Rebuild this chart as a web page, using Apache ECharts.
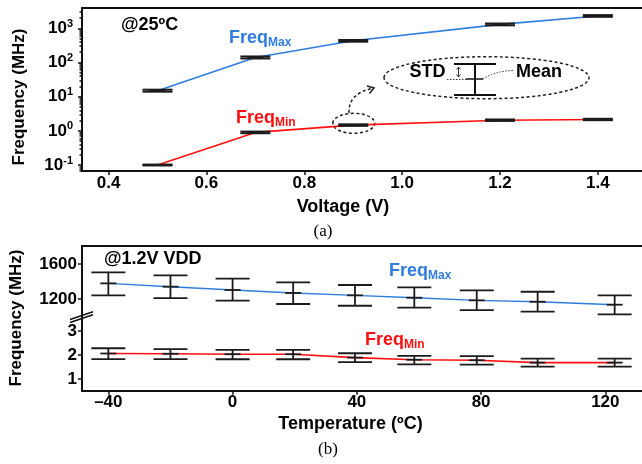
<!DOCTYPE html>
<html>
<head>
<meta charset="utf-8">
<script src="https://cdn.jsdelivr.net/npm/echarts@6/dist/echarts.min.js"></script>
<style>
html,body{margin:0;padding:0;background:#fff;}
#c{width:642px;height:464px;}
</style>
</head>
<body>
<div id="c"></div>
<script>
// ---------- data (a): frequency vs voltage @25C ----------
const voltage   = [0.5, 0.7, 0.9, 1.2, 1.4];
const fmaxMeanA = [15, 140, 430, 1300, 2300];
const fmaxLowA  = [14, 131, 405, 1220, 2170];
const fmaxHighA = [16, 150, 455, 1380, 2430];
const fminMeanA = [0.1, 0.9, 1.47, 2.05, 2.15];
const fminLowA  = [0.097, 0.85, 1.40, 1.95, 2.05];
const fminHighA = [0.103, 0.95, 1.55, 2.15, 2.25];
const voltTicks = [0.4, 0.6, 0.8, 1.0, 1.2, 1.4];
const logTicks  = [0.1, 1, 10, 100, 1000];
const logMinor  = [0.07,0.08,0.09,0.2,0.3,0.4,0.5,0.6,0.7,0.8,0.9,2,3,4,5,6,7,8,9,20,30,40,50,60,70,80,90,200,300,400,500,600,700,800,900,2000,3000];

// ---------- data (b): frequency vs temperature @1.2V ----------
const tempC     = [-40, -20, 0, 19.5, 39.4, 58.5, 78.6, 98.2, 123];
const fmaxMeanB = [1379, 1341, 1303, 1269, 1242, 1215, 1185, 1169, 1135];
const fmaxLowB  = [1242, 1211, 1181, 1143, 1123, 1101, 1074, 1055, 1025];
const fmaxHighB = [1505, 1471, 1432, 1390, 1360, 1334, 1299, 1283, 1242];
const fminMeanB = [2.06, 2.05, 2.03, 2.03, 1.89, 1.80, 1.78, 1.68, 1.68];
const fminLowB  = [1.83, 1.83, 1.82, 1.82, 1.70, 1.61, 1.60, 1.51, 1.51];
const fminHighB = [2.28, 2.24, 2.21, 2.21, 2.07, 1.96, 1.95, 1.85, 1.85];
const tempTicks = [-40, 0, 40, 80, 120];
const hiTicks   = [1200, 1600];
const loTicks   = [1, 2, 3];

const FONT = '"Liberation Sans Narrow", "Liberation Sans", Arial, sans-serif';
const BLUE = '#2f7de0';
const RED  = '#ff1010';
const AX = '#111';

const chart = echarts.init(document.getElementById('c'), null, {renderer: 'canvas'});

function errRender(capHalf, meanHalf, lw) {
  return function (params, api) {
    const x = api.value(0), lo = api.value(1), hi = api.value(2), m = api.value(3);
    const pLo = api.coord([x, lo]), pHi = api.coord([x, hi]), pM = api.coord([x, m]);
    const style = {stroke: '#1b1b1b', lineWidth: lw, fill: null};
    return {type: 'group', children: [
      {type: 'line', shape: {x1: pLo[0], y1: pLo[1], x2: pHi[0], y2: pHi[1]}, style: style},
      {type: 'line', shape: {x1: pLo[0] - capHalf, y1: pLo[1], x2: pLo[0] + capHalf, y2: pLo[1]}, style: style},
      {type: 'line', shape: {x1: pHi[0] - capHalf, y1: pHi[1], x2: pHi[0] + capHalf, y2: pHi[1]}, style: style},
      {type: 'line', shape: {x1: pM[0] - meanHalf, y1: pM[1], x2: pM[0] + meanHalf, y2: pM[1]}, style: style}
    ]};
  };
}
function errData(xs, lo, hi, m) { return xs.map((x, i) => [x, lo[i], hi[i], m[i]]); }
function lineData(xs, m) { return xs.map((x, i) => [x, m[i]]); }

const lbl = {fontFamily: FONT, fontWeight: 'bold', fontSize: 17, color: '#000'};
const axLine = {onZero: false, lineStyle: {color: AX, width: 2}};
const tick = (vals, len) => ({customValues: vals, length: len, inside: false, lineStyle: {color: AX, width: 1.5}});
const noTick = {show: false};
const noLbl = {show: false};
const noSplit = {show: false};
const plain = v => String(v);

const XA_MIN = 0.3457, XA_MAX = 1.4902;
const XB_MIN = -48.48, XB_MAX = 131.8;

const option = {
  backgroundColor: '#fff',
  animation: false,
  grid: [
    {left: 82, top: 8, width: 568, height: 163},
    {left: 82, top: 246, width: 568, height: 72},
    {left: 82, top: 318, width: 568, height: 72.7}
  ],
  xAxis: [
    {gridIndex: 0, type: 'value', min: XA_MIN, max: XA_MAX, position: 'bottom',
     axisLine: axLine, axisTick: tick(voltTicks, 4), splitLine: noSplit,
     axisLabel: Object.assign({customValues: voltTicks, margin: 4, formatter: v => v.toFixed(1)}, lbl),
     name: 'Voltage (V)', nameLocation: 'middle', nameGap: 27,
     nameTextStyle: {fontFamily: FONT, fontWeight: 'bold', fontSize: 18, color: '#000', padding: [0, 38, 0, 0]}},
    {gridIndex: 0, type: 'value', min: XA_MIN, max: XA_MAX, position: 'top',
     axisLine: axLine, axisTick: noTick, axisLabel: noLbl, splitLine: noSplit},
    {gridIndex: 1, type: 'value', min: XB_MIN, max: XB_MAX, position: 'top',
     axisLine: axLine, axisTick: noTick, axisLabel: noLbl, splitLine: noSplit},
    {gridIndex: 2, type: 'value', min: XB_MIN, max: XB_MAX, position: 'bottom',
     axisLine: axLine, axisTick: tick(tempTicks, 4), splitLine: noSplit,
     axisLabel: Object.assign({customValues: tempTicks, margin: 3, formatter: v => (v < 0 ? '\u2013' + Math.abs(v) : String(v))}, lbl),
     name: 'Temperature (\u00baC)', nameLocation: 'middle', nameGap: 24,
     nameTextStyle: {fontFamily: FONT, fontWeight: 'bold', fontSize: 18, color: '#000', padding: [0, 23, 0, 0]}}
  ],
  yAxis: [
    {gridIndex: 0, type: 'log', logBase: 10, min: 0.0668, max: 3926, position: 'left',
     axisLine: axLine, axisTick: tick(logTicks, 4), splitLine: noSplit, minorTick: {show: false},
     axisLabel: {customValues: logTicks, margin: 9,
       formatter: v => '{b|10}{s|' + Math.round(Math.log10(v)) + '}',
       rich: {b: {fontFamily: FONT, fontWeight: 'bold', fontSize: 17, color: '#000', lineHeight: 20},
              s: {fontFamily: FONT, fontWeight: 'bold', fontSize: 11, color: '#000', lineHeight: 12, verticalAlign: 'top'}}}},
    {gridIndex: 0, type: 'log', logBase: 10, min: 0.0668, max: 3926, position: 'left',
     axisLine: {show: false, onZero: false}, axisTick: tick(logMinor, 2.5), axisLabel: noLbl, splitLine: noSplit},
    {gridIndex: 1, type: 'value', min: 983, max: 1806, position: 'left',
     axisLine: axLine, axisTick: tick(hiTicks, 4), splitLine: noSplit,
     axisLabel: Object.assign({customValues: hiTicks, margin: 5, formatter: plain}, lbl)},
    {gridIndex: 2, type: 'value', min: 0.51, max: 3.54, position: 'left',
     axisLine: axLine, axisTick: tick(loTicks, 4), splitLine: noSplit,
     axisLabel: Object.assign({customValues: loTicks, margin: 5, formatter: plain}, lbl)}
  ],
  series: [
    {type: 'line', xAxisIndex: 0, yAxisIndex: 0, data: lineData(voltage, fmaxMeanA), showSymbol: false, symbol: 'none',
     lineStyle: {color: BLUE, width: 1.6}, z: 2},
    {type: 'line', xAxisIndex: 0, yAxisIndex: 0, data: lineData(voltage, fminMeanA), showSymbol: false, symbol: 'none',
     lineStyle: {color: RED, width: 1.6}, z: 2},
    {type: 'custom', xAxisIndex: 0, yAxisIndex: 0, data: errData(voltage, fmaxLowA, fmaxHighA, fmaxMeanA),
     renderItem: errRender(15, 8, 2), z: 3},
    {type: 'custom', xAxisIndex: 0, yAxisIndex: 0, data: errData(voltage, fminLowA, fminHighA, fminMeanA),
     renderItem: errRender(15, 8, 2), z: 3},

    {type: 'line', xAxisIndex: 2, yAxisIndex: 2, data: lineData(tempC, fmaxMeanB), showSymbol: false, symbol: 'none',
     lineStyle: {color: BLUE, width: 1.4}, z: 2},
    {type: 'custom', xAxisIndex: 2, yAxisIndex: 2, data: errData(tempC, fmaxLowB, fmaxHighB, fmaxMeanB),
     renderItem: errRender(17, 8, 1.8), z: 3},
    {type: 'line', xAxisIndex: 3, yAxisIndex: 3, data: lineData(tempC, fminMeanB), showSymbol: false, symbol: 'none',
     lineStyle: {color: RED, width: 1.6}, z: 2},
    {type: 'custom', xAxisIndex: 3, yAxisIndex: 3, data: errData(tempC, fminLowB, fminHighB, fminMeanB),
     renderItem: errRender(17, 8, 1.8), z: 3}
  ],
  graphic: [
    // y-axis titles
    {type: 'text', x: 19, y: 97, rotation: Math.PI / 2,
     style: {text: 'Frequency (MHz)', fontFamily: FONT, fontWeight: 'bold', fontSize: 17, fill: '#000', align: 'center', verticalAlign: 'middle'}},
    {type: 'text', x: 16, y: 318, rotation: Math.PI / 2,
     style: {text: 'Frequency (MHz)', fontFamily: FONT, fontWeight: 'bold', fontSize: 17, fill: '#000', align: 'center', verticalAlign: 'middle'}},
    // captions
    {type: 'text', x: 323, y: 232, style: {text: '(a)', fontFamily: '"Liberation Serif", "Times New Roman", serif', fontSize: 17, fill: '#000', align: 'center', verticalAlign: 'middle'}},
    {type: 'text', x: 328, y: 450, style: {text: '(b)', fontFamily: '"Liberation Serif", "Times New Roman", serif', fontSize: 17, fill: '#000', align: 'center', verticalAlign: 'middle'}},
    // condition labels
    {type: 'text', x: 121, y: 25, style: {text: '@25\u00baC', fontFamily: FONT, fontWeight: 'bold', fontSize: 18, fill: '#000', align: 'left', verticalAlign: 'middle'}},
    {type: 'text', x: 104, y: 259, style: {text: '@1.2V VDD', fontFamily: FONT, fontWeight: 'bold', fontSize: 18, fill: '#000', align: 'left', verticalAlign: 'middle'}},
    // series labels
    {type: 'text', x: 229, y: 38, style: {text: '{a|Freq}{b|Max}', align: 'left', verticalAlign: 'middle',
      rich: {a: {fontFamily: FONT, fontWeight: 'bold', fontSize: 18, fill: BLUE, color: BLUE, lineHeight: 22},
             b: {fontFamily: FONT, fontWeight: 'bold', fontSize: 12, fill: BLUE, color: BLUE, lineHeight: 12, verticalAlign: 'bottom'}}}},
    {type: 'text', x: 236, y: 118, style: {text: '{a|Freq}{b|Min}', align: 'left', verticalAlign: 'middle',
      rich: {a: {fontFamily: FONT, fontWeight: 'bold', fontSize: 18, fill: RED, color: RED, lineHeight: 22},
             b: {fontFamily: FONT, fontWeight: 'bold', fontSize: 12, fill: RED, color: RED, lineHeight: 12, verticalAlign: 'bottom'}}}},
    {type: 'text', x: 389, y: 271, style: {text: '{a|Freq}{b|Max}', align: 'left', verticalAlign: 'middle',
      rich: {a: {fontFamily: FONT, fontWeight: 'bold', fontSize: 18, fill: BLUE, color: BLUE, lineHeight: 22},
             b: {fontFamily: FONT, fontWeight: 'bold', fontSize: 12, fill: BLUE, color: BLUE, lineHeight: 12, verticalAlign: 'bottom'}}}},
    {type: 'text', x: 365, y: 340, style: {text: '{a|Freq}{b|Min}', align: 'left', verticalAlign: 'middle',
      rich: {a: {fontFamily: FONT, fontWeight: 'bold', fontSize: 18, fill: RED, color: RED, lineHeight: 22},
             b: {fontFamily: FONT, fontWeight: 'bold', fontSize: 12, fill: RED, color: RED, lineHeight: 12, verticalAlign: 'bottom'}}}},
    // inset legend
    {type: 'ellipse', shape: {cx: 486.5, cy: 77.7, rx: 102.5, ry: 21}, style: {fill: null, stroke: '#222', lineWidth: 1.5, lineDash: [3, 2.5]}},
    {type: 'ellipse', shape: {cx: 353.8, cy: 123.3, rx: 21, ry: 10}, style: {fill: null, stroke: '#222', lineWidth: 1.5, lineDash: [3, 2.5]}},
    {type: 'bezierCurve', shape: {x1: 349, y1: 113, x2: 374, y2: 88, cpx1: 348, cpy1: 93}, style: {fill: null, stroke: '#222', lineWidth: 1.5, lineDash: [3, 2.5]}},
    {type: 'polyline', shape: {points: [[367, 86], [374, 88], [369.5, 93.5]]}, style: {fill: null, stroke: '#222', lineWidth: 1.5}},
    {type: 'text', x: 427.5, y: 72, style: {text: 'STD', fontFamily: FONT, fontWeight: 'bold', fontSize: 18, fill: '#000', align: 'center', verticalAlign: 'middle'}},
    {type: 'text', x: 516, y: 72, style: {text: 'Mean', fontFamily: FONT, fontWeight: 'bold', fontSize: 18, fill: '#000', align: 'left', verticalAlign: 'middle'}},
    {type: 'line', shape: {x1: 475, y1: 64, x2: 475, y2: 95}, style: {stroke: '#111', lineWidth: 2}},
    {type: 'line', shape: {x1: 454, y1: 64, x2: 496, y2: 64}, style: {stroke: '#111', lineWidth: 2}},
    {type: 'line', shape: {x1: 454, y1: 95, x2: 496, y2: 95}, style: {stroke: '#111', lineWidth: 2}},
    {type: 'line', shape: {x1: 466, y1: 79, x2: 483, y2: 79}, style: {stroke: '#111', lineWidth: 1.5}},
    {type: 'line', shape: {x1: 447, y1: 79.5, x2: 466, y2: 79.5}, style: {stroke: '#333', lineWidth: 1, lineDash: [1.5, 1.5]}},
    {type: 'bezierCurve', shape: {x1: 483, y1: 79, x2: 513, y2: 70.5, cpx1: 495, cpy1: 71}, style: {fill: null, stroke: '#333', lineWidth: 1, lineDash: [1.5, 1.5]}},
    {type: 'line', shape: {x1: 458.5, y1: 67, x2: 458.5, y2: 77}, style: {stroke: '#333', lineWidth: 1}},
    {type: 'polyline', shape: {points: [[456.5, 69.5], [458.5, 67], [460.5, 69.5]]}, style: {fill: null, stroke: '#333', lineWidth: 1}},
    {type: 'polyline', shape: {points: [[456.5, 74.5], [458.5, 77], [460.5, 74.5]]}, style: {fill: null, stroke: '#333', lineWidth: 1}},
    // axis break marks
    {type: 'line', shape: {x1: 70, y1: 322.5, x2: 93, y2: 314.8}, style: {stroke: '#111', lineWidth: 1.5}},
    {type: 'line', shape: {x1: 70, y1: 319.5, x2: 93, y2: 311.8}, style: {stroke: '#111', lineWidth: 1.5}}
  ]
};
chart.setOption(option);
</script>
</body>
</html>
